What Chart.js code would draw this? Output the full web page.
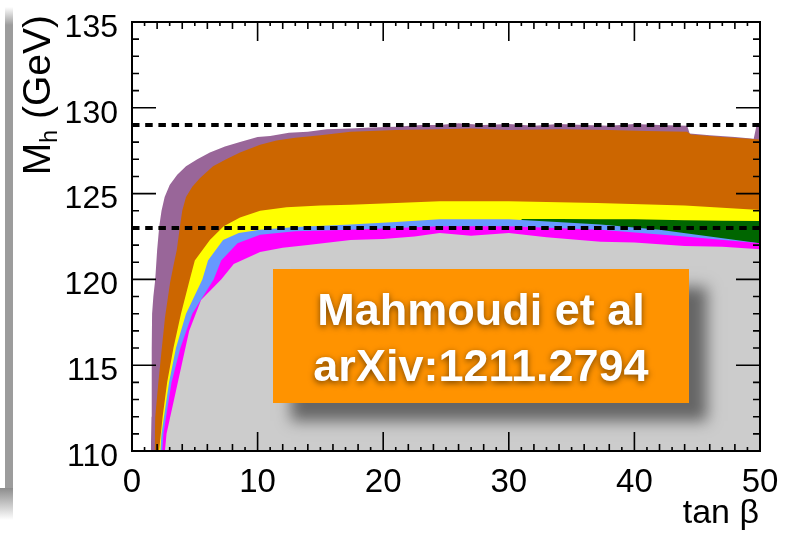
<!DOCTYPE html>
<html>
<head>
<meta charset="utf-8">
<script src="https://cdn.jsdelivr.net/npm/chart.js@4.4.0/dist/chart.umd.min.js"></script>
<style>
  html, body { margin: 0; padding: 0; background: #fff; }
  #wrap { position: relative; width: 792px; height: 539px; overflow: hidden; }
  #side { position: absolute; left: 5px; top: 7px; width: 8px; height: 481px;
          background: linear-gradient(#fff, #9c9c9c 18px); }
  #foot { position: absolute; left: 0; top: 488px; width: 13px; height: 32px;
          background: linear-gradient(#8c8c8c, #fff); }
  canvas { position: absolute; left: 0; top: 0; }
  #note { position: absolute; left: 273px; top: 269px; width: 416px; height: 134px;
          box-sizing: border-box; padding-top: 13px;
          background: #ff9300; box-shadow: 18px 18px 14px rgba(0,0,0,0.5);
          color: #fff; font: bold 45px "Liberation Sans", Arial, sans-serif;
          line-height: 56px; text-align: center;
          text-shadow: 0 2px 6px rgba(0,0,0,0.55); }
</style>
</head>
<body>
<div id="wrap">
  <div id="side"></div>
  <div id="foot"></div>
  <canvas id="c" width="792" height="539"></canvas>
  <div id="note">Mahmoudi et al<br>arXiv:1211.2794</div>
</div>
<script>
// upper edge of each scan region, (tan beta, M_h) pairs
var purpleTanB = [1.5, 1.55, 1.57, 1.6, 1.7, 1.85, 2.0, 2.17, 2.35, 2.6, 3.0, 3.6, 4.3, 5.2, 6.2, 7.4, 8.6, 10, 11, 12.5, 14, 15.5, 17.4, 19, 21, 23, 24.5, 26, 28, 30, 32, 34, 36, 38, 40, 42, 44.2, 44.4, 46, 48, 49.5, 49.7, 50];
var purpleMh   = [110, 112, 116, 118, 119, 120, 121.7, 123.1, 124.0, 124.8, 125.5, 126.1, 126.6, 127.0, 127.4, 127.75, 128.0, 128.3, 128.35, 128.55, 128.6, 128.75, 128.8, 128.85, 128.9, 129.0, 129.0, 129.1, 129.0, 129.05, 128.95, 129.05, 129.0, 128.95, 129.05, 129.0, 128.95, 128.5, 128.4, 128.3, 128.2, 128.9, 128.9];

var orangeTanB = [1.8, 1.85, 2.1, 2.36, 2.63, 3.03, 3.3, 3.56, 3.82, 4.0, 4.3, 4.8, 5.4, 6.45, 7.5, 8.6, 10.2, 11.5, 13, 15, 17.4, 19, 21, 24.5, 27, 30, 34, 38, 41, 44.2, 44.5, 47, 50];
var orangeMh   = [110, 112, 114, 115.9, 117.8, 119.8, 120.8, 121.7, 123.1, 124.0, 124.8, 125.4, 125.9, 126.6, 127.0, 127.4, 127.85, 128.1, 128.25, 128.4, 128.6, 128.65, 128.7, 128.75, 128.8, 128.7, 128.75, 128.7, 128.65, 128.6, 128.45, 128.3, 128.15];

var yellowTanB = [2.15, 2.44, 2.8, 3.3, 3.9, 4.6, 5.0, 6.2, 7.3, 8.6, 10.2, 12.3, 15, 17.4, 21, 24.5, 30, 37, 44, 50];
var yellowMh   = [110, 112, 114, 116, 118, 120, 121.1, 122.3, 123.1, 123.6, 124.0, 124.2, 124.3, 124.35, 124.45, 124.55, 124.55, 124.45, 124.3, 124.05];

var greenTanB = [31, 34, 37.3, 40, 44, 47, 50];
var greenMh   = [123.52, 123.52, 123.5, 123.5, 123.45, 123.42, 123.4];

var blueTanB = [2.25, 2.35, 2.95, 3.5, 4.3, 5.6, 6.05, 7.25, 8.5, 10.2, 13, 17.4, 21, 24.5, 30, 37.3, 42, 46, 50];
var blueMh   = [110, 111, 114, 116, 118, 120, 121.1, 122.3, 122.7, 122.9, 123.05, 123.2, 123.35, 123.5, 123.5, 123.2, 122.9, 122.5, 122.1];

var magentaTanB = [2.4, 2.5, 3.15, 3.85, 4.8, 6.5, 7.1, 8.4, 10.2, 13, 17.4, 21, 24.5, 30, 37.3, 44, 50];
var magentaMh   = [110, 111, 114, 116, 118, 120, 121.1, 122.1, 122.6, 122.8, 122.9, 123.0, 123.1, 123.1, 122.9, 122.5, 122.1];

var greyTanB = [2.62, 2.75, 3.35, 3.95, 4.55, 5.5, 7.1, 8.1, 10.2, 12, 14, 17.4, 20, 22.5, 24.5, 27, 30, 33, 37.3, 40, 44, 47, 50];
var greyMh   = [110, 111, 113, 115, 117, 118.8, 120, 120.9, 121.6, 121.85, 122.0, 122.3, 122.35, 122.5, 122.7, 122.55, 122.7, 122.45, 122.2, 122.15, 121.95, 121.9, 121.75];

// the two horizontal reference lines
var refLines = [129, 123];

var xTicks = [0, 10, 20, 30, 40, 50];
var yTicks = [110, 115, 120, 125, 130, 135];

var FONT = '"Liberation Sans", Arial, Helvetica, sans-serif';

function pts(xs, ys) {
  return xs.map(function (x, i) { return { x: x, y: ys[i] }; });
}

function region(xs, ys, colour) {
  return {
    data: pts(xs, ys),
    backgroundColor: colour,
    borderWidth: 0,
    pointRadius: 0,
    tension: 0,
    fill: 'start'
  };
}

// frame, ROOT-style tick marks on all four sides, dashed lines and axis titles
var decor = {
  id: 'decor',
  afterDatasetsDraw: function (chart) {
    var c = chart.ctx, a = chart.chartArea;
    var xs = chart.scales.x, ys = chart.scales.y;
    c.save();

    c.strokeStyle = '#000';
    c.lineWidth = 4;
    c.setLineDash([7.5, 5.7]);
    refLines.forEach(function (m) {
      var y = ys.getPixelForValue(m);
      c.beginPath(); c.moveTo(a.left, y); c.lineTo(a.right, y); c.stroke();
    });
    c.setLineDash([]);

    c.lineWidth = 1.6;
    c.beginPath();
    for (var t = 0; t <= 50; t++) {
      var px = xs.getPixelForValue(t);
      var len = t % 10 === 0 ? 19 : (t % 2 === 0 ? 7 : 4);
      c.moveTo(px, a.bottom); c.lineTo(px, a.bottom - len);
      c.moveTo(px, a.top); c.lineTo(px, a.top + len);
    }
    for (var m = 110; m <= 135; m++) {
      var py = ys.getPixelForValue(m);
      var l2 = m % 5 === 0 ? 24 : 7;
      c.moveTo(a.left, py); c.lineTo(a.left + l2, py);
      c.moveTo(a.right, py); c.lineTo(a.right - l2, py);
    }
    c.stroke();

    c.lineWidth = 2;
    c.strokeRect(a.left, a.top, a.right - a.left, a.bottom - a.top);

    // y title: M_h (GeV), read bottom to top
    c.fillStyle = '#000';
    c.textBaseline = 'alphabetic';
    c.textAlign = 'left';
    var big = '39px ' + FONT, small = '23px ' + FONT;
    c.font = big; var wM = c.measureText('M').width, wRest = c.measureText(' (GeV)').width;
    c.font = small; var wh = c.measureText('h').width;
    var total = wM + wh + wRest;
    c.translate(50, 15 + total);
    c.rotate(-Math.PI / 2);
    c.font = big; c.fillText('M', 0, 0);
    c.font = small; c.fillText('h', wM, 7);
    c.font = big; c.fillText(' (GeV)', wM + wh, 0);
    c.setTransform(1, 0, 0, 1, 0, 0);

    c.font = '34px ' + FONT;
    c.textAlign = 'right';
    c.fillText('tan \u03b2', 759, 523);
    c.restore();
  }
};

new Chart(document.getElementById('c'), {
  type: 'line',
  data: {
    datasets: [
      region(greyTanB, greyMh, '#cccccc'),
      region(magentaTanB, magentaMh, '#ff00ff'),
      region(blueTanB, blueMh, '#6699ff'),
      region(greenTanB, greenMh, '#006600'),
      region(yellowTanB, yellowMh, '#ffff00'),
      region(orangeTanB, orangeMh, '#cc6600'),
      region(purpleTanB, purpleMh, '#996699')
    ]
  },
  options: {
    responsive: false,
    animation: false,
    events: [],
    layout: { padding: { left: 0, right: 32, top: 22, bottom: 0 } },
    plugins: { legend: { display: false }, tooltip: { enabled: false } },
    scales: {
      x: {
        type: 'linear', min: 0, max: 50,
        afterFit: function (s) { s.height = 88; s.paddingLeft = 0; s.paddingRight = 0; },
        afterBuildTicks: function (s) { s.ticks = xTicks.map(function (v) { return { value: v }; }); },
        grid: { display: false, drawTicks: false }, border: { display: false },
        ticks: { padding: 12, maxRotation: 0, autoSkip: false, color: '#000', font: { family: FONT, size: 33 } }
      },
      y: {
        type: 'linear', min: 110, max: 135,
        afterFit: function (s) { s.width = 132; s.paddingTop = 0; s.paddingBottom = 0; },
        afterBuildTicks: function (s) { s.ticks = yTicks.map(function (v) { return { value: v }; }); },
        grid: { display: false, drawTicks: false }, border: { display: false },
        ticks: { padding: 14, labelOffset: 6, autoSkip: false, color: '#000', font: { family: FONT, size: 32 } }
      }
    }
  },
  plugins: [decor]
});
</script>
</body>
</html>
